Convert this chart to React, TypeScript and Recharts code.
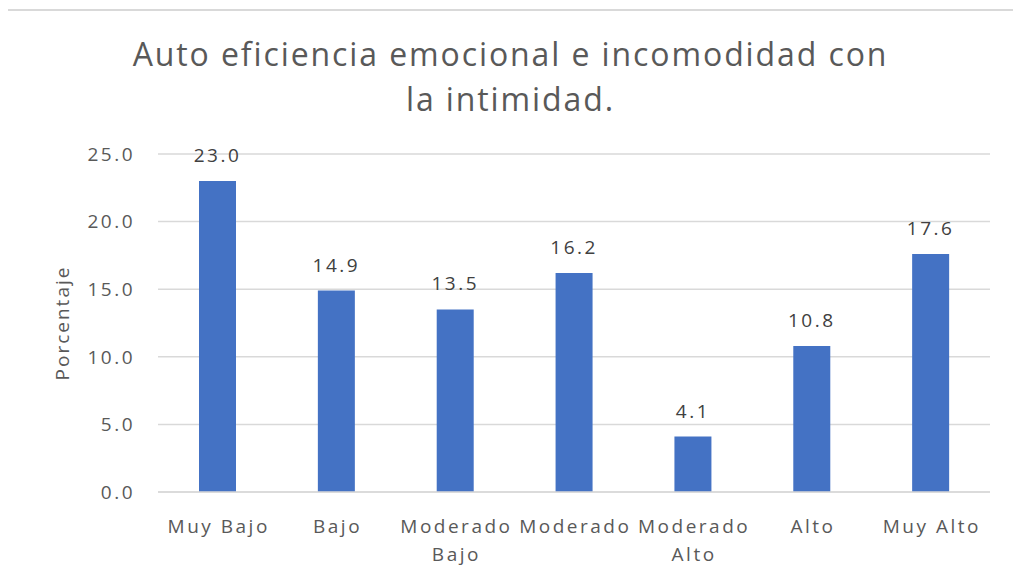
import React from 'react';
import { BarChart, Bar, XAxis, YAxis, CartesianGrid, LabelList, Label } from 'recharts';

const categories = ['Muy Bajo', 'Bajo', 'Moderado Bajo', 'Moderado', 'Moderado Alto', 'Alto', 'Muy Alto'];
const values = [23.0, 14.9, 13.5, 16.2, 4.1, 10.8, 17.6];
const yTicks = [0, 5, 10, 15, 20, 25];

const data = categories.map((c, i) => ({ name: c, value: values[i] }));

const FONT = '"Open Sans", "Noto Sans", sans-serif';
const TXT = '#595959';
const LS = 2.5;

const XTick = (props: any) => {
  const { x, y, payload } = props;
  const label: string = payload.value;
  let lines = [label];
  if (label.length > 10) {
    const idx = label.lastIndexOf(' ');
    lines = [label.slice(0, idx), label.slice(idx + 1)];
  }
  return (
    <g transform={`translate(${x},${y})`}>
      {lines.map((l, i) => (
        <text
          key={i}
          x={LS / 2}
          y={0}
          dy={33 + i * 28}
          textAnchor="middle"
          fill={TXT}
          fontSize={19}
          letterSpacing={LS}
          fontFamily={FONT}
        >
          {l}
        </text>
      ))}
    </g>
  );
};

export default function App() {
  return (
    <div style={{ position: 'relative', width: 1021, height: 576, margin: -8, overflow: 'hidden', background: '#fff' }}>
      <div style={{ position: 'absolute', left: 8, top: -17, fontFamily: FONT, fontSize: 20, letterSpacing: 2.5, color: '#000', whiteSpace: 'nowrap' }}>
        Incomodidad con la intimidad.
      </div>
      <div style={{ position: 'absolute', left: 3, top: 9, width: 2, height: 3, background: '#333' }} />
      <div style={{ position: 'absolute', left: 6, top: 9, width: 1015, height: 2, background: '#d9d9d9' }} />
      <div style={{ position: 'absolute', left: 0, width: 1021, top: 31, textAlign: 'center', fontFamily: FONT, fontSize: 32, letterSpacing: 1.9, lineHeight: '45px', color: TXT }}>
        Auto eficiencia emocional e incomodidad con
        <br />
        la intimidad.
      </div>
      <div style={{ position: 'absolute', left: 0, top: 0 }}>
        <BarChart width={1021} height={576} data={data} margin={{ top: 154, right: 31, bottom: 0, left: 0 }}>
          <CartesianGrid vertical={false} stroke="#d9d9d9" strokeWidth={1.5} />
          <XAxis
            dataKey="name"
            height={84}
            tickLine={false}
            axisLine={{ stroke: '#d9d9d9', strokeWidth: 1.5 }}
            tick={<XTick />}
            interval={0}
          />
          <YAxis
            width={158}
            domain={[0, 25]}
            ticks={yTicks}
            tickFormatter={(v: number) => v.toFixed(1)}
            tickLine={false}
            axisLine={false}
            tickMargin={17}
            tick={{ fill: TXT, fontSize: 19, fontFamily: FONT, letterSpacing: LS }}
          >
            <Label
              value="Porcentaje"
              angle={-90}
              position="center"
              dx={-17}
              fill={TXT}
              fontSize={19}
              letterSpacing={2}
              fontFamily={FONT}
            />
          </YAxis>
          <Bar dataKey="value" fill="#4472C4" barSize={37} isAnimationActive={false}>
            <LabelList
              dataKey="value"
              position="top"
              offset={19}
              formatter={(v: any) => Number(v).toFixed(1)}
              fill="#404040"
              fontSize={19}
              letterSpacing={LS}
              fontFamily={FONT}
            />
          </Bar>
        </BarChart>
      </div>
    </div>
  );
}
